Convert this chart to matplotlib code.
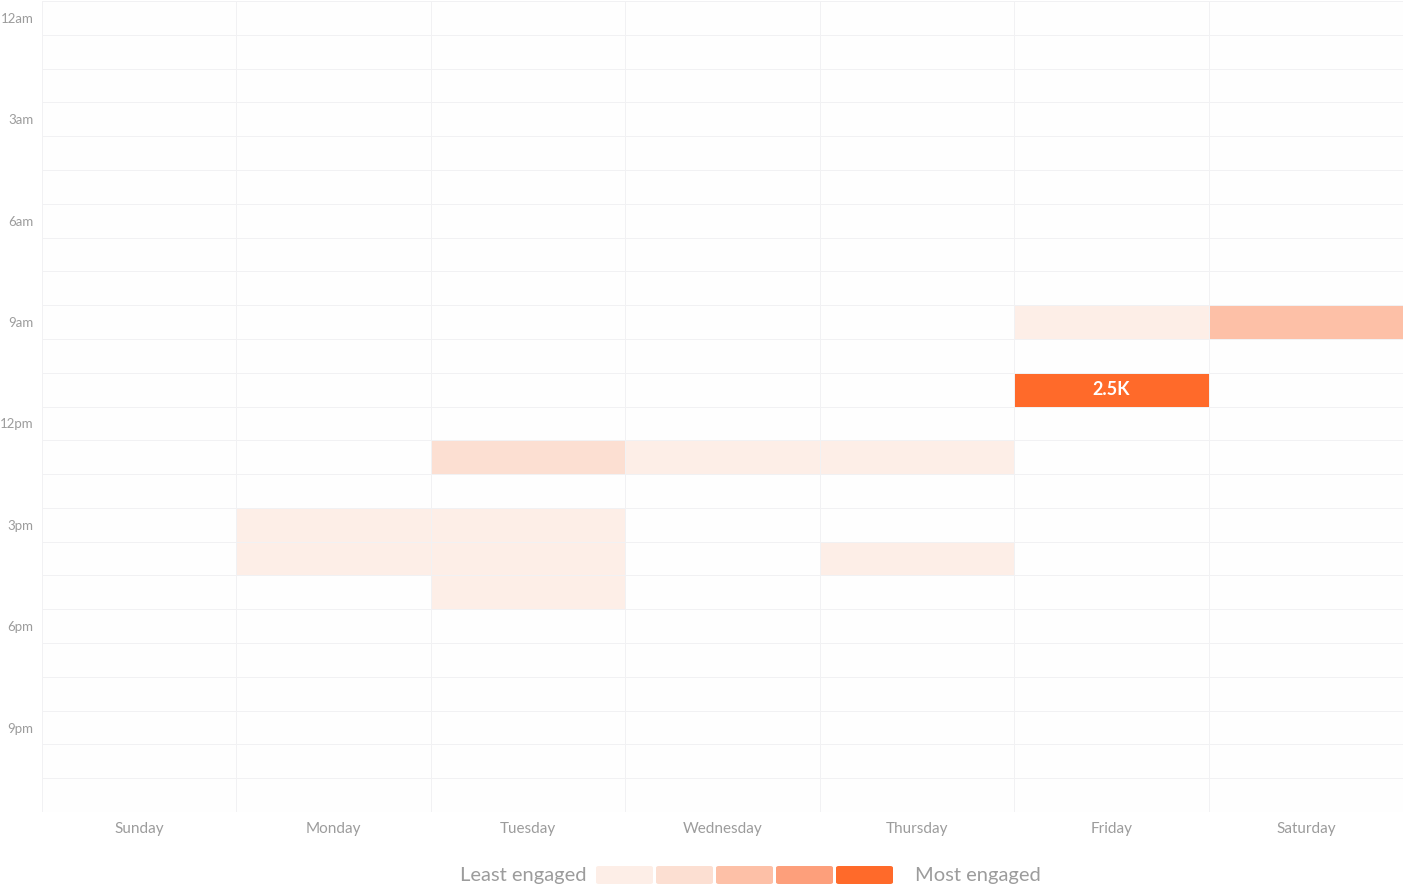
import matplotlib
matplotlib.use("Agg")
import matplotlib.pyplot as plt
import numpy as np
from matplotlib.colors import ListedColormap, BoundaryNorm
from matplotlib.patches import FancyBboxPatch

days = ["Sunday", "Monday", "Tuesday", "Wednesday", "Thursday", "Friday", "Saturday"]
hour_labels = ["12am", "3am", "6am", "9am", "12pm", "3pm", "6pm", "9pm"]
# (day, hour, engagement)
cells_day = ["Friday", "Saturday", "Friday", "Tuesday", "Wednesday", "Thursday",
             "Monday", "Monday", "Tuesday", "Tuesday", "Tuesday", "Thursday"]
cells_hour = [9, 9, 11, 13, 13, 13, 15, 16, 15, 16, 17, 16]
cells_value = [300, 1300, 2500, 700, 300, 300, 300, 300, 300, 300, 300, 300]
annot_day = "Friday"
annot_hour = 11
annot_text = "2.5K"

level_bounds = [0, 1, 500, 1000, 1500, 2000, 2600]
level_colors = ["#FEFEFE", "#FDEEE7", "#FCDFD2", "#FDC0A7", "#FD9F7B", "#FF6A2A"]
legend_colors = level_colors[1:]

data = np.zeros((24, 7))
for d, h, v in zip(cells_day, cells_hour, cells_value):
    data[h, days.index(d)] = v

fig = plt.figure(figsize=(14.04, 8.89), dpi=100)
ax = fig.add_axes([42/1404, 1 - 812/889, 1361/1404, 811/889])
cmap = ListedColormap(level_colors)
norm = BoundaryNorm(level_bounds, cmap.N)
ax.pcolormesh(np.arange(8), np.arange(25), data, cmap=cmap, norm=norm,
              edgecolors="#F1F1F3", linewidth=0.6)
ax.set_xlim(0, 7)
ax.set_ylim(24, 0)
for s in ax.spines.values():
    s.set_visible(False)

tick_color = "#9C9C9C"
ax.set_xticks(np.arange(7) + 0.5)
ax.set_xticklabels(days, fontsize=11, color=tick_color, family="Lato")
ax.set_yticks(np.arange(0, 24, 3) + 0.5)
ax.set_yticklabels(hour_labels, fontsize=9.5, color=tick_color, family="Lato")
ax.tick_params(length=0)
ax.tick_params(axis="x", pad=7)
ax.tick_params(axis="y", pad=6)

ax.text(days.index(annot_day) + 0.5, annot_hour + 0.5, annot_text, color="white",
        fontsize=13, fontweight="bold", ha="center", va="center", family="Lato")

# legend
fig.text(587/1404, 1 - 875/889, "Least engaged", ha="right", va="center",
         fontsize=14.5, color=tick_color, family="Lato")
fig.text(915/1404, 1 - 875/889, "Most engaged", ha="left", va="center",
         fontsize=14.5, color=tick_color, family="Lato")
x0 = 596
for i, c in enumerate(legend_colors):
    xl = x0 + i * 60
    p = FancyBboxPatch((xl/1404, 1 - 884/889), 57/1404, 18/889,
                       boxstyle="round,pad=0,rounding_size=0.002",
                       transform=fig.transFigure, facecolor=c, edgecolor="none")
    fig.patches.append(p)

fig.savefig("out.png", dpi=100, facecolor="white")
